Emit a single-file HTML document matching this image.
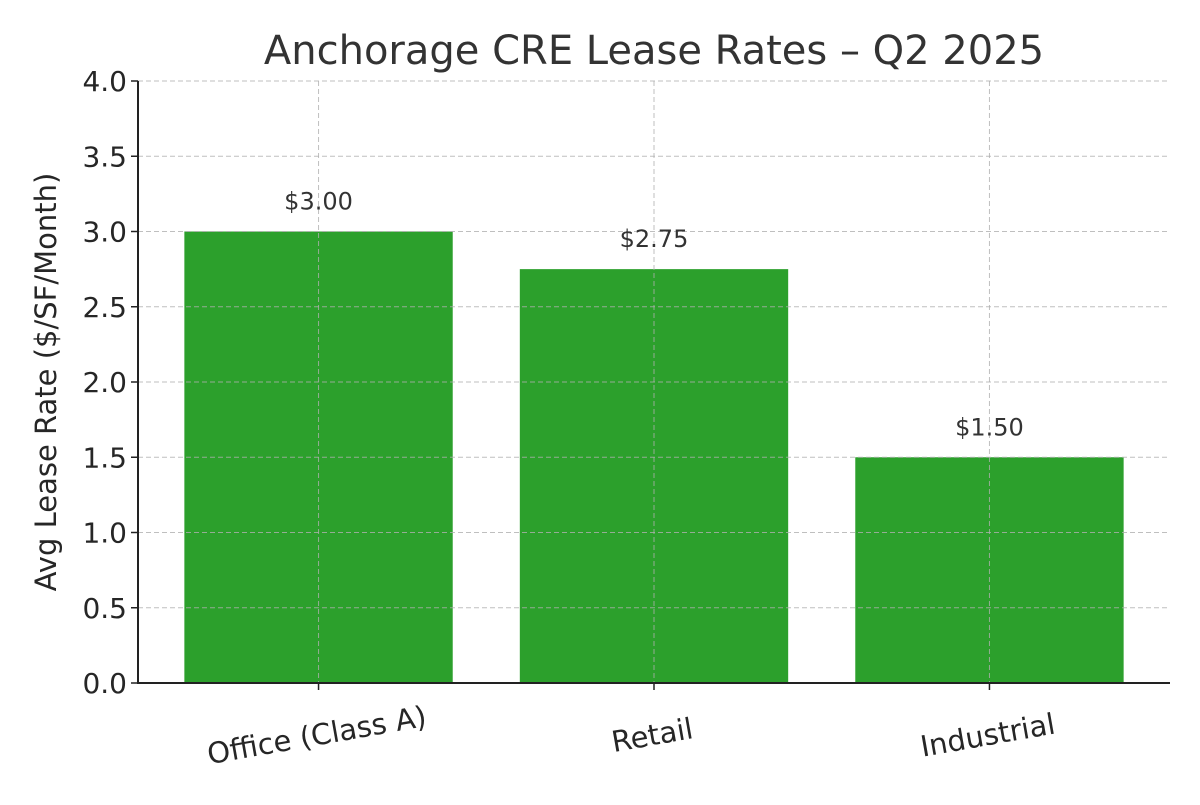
<!DOCTYPE html>
<html><head><meta charset="utf-8"><style>
body{margin:0;background:#fff}
svg text{font-family:"DejaVu Sans","Liberation Sans",sans-serif;fill:#262626}
</style></head><body>
<svg id="chart" width="1200" height="800" xmlns="http://www.w3.org/2000/svg">
<text x="654" y="64" text-anchor="middle" font-size="40" style="fill:#333">Anchorage CRE Lease Rates – Q2 2025</text>
<text transform="translate(56,382) rotate(-90)" text-anchor="middle" font-size="29">Avg Lease Rate ($/SF/Month)</text>
<g id="bars"></g><g id="grid"></g><g id="labels"></g><g id="axes"></g>
</svg>
<script>
const categories=["Office (Class A)","Retail","Industrial"];
const values=[3.00,2.75,1.50];
const valueLabels=["$3.00","$2.75","$1.50"];
const yTicks=[0,0.5,1,1.5,2,2.5,3,3.5,4];
const yTickLabels=["0.0","0.5","1.0","1.5","2.0","2.5","3.0","3.5","4.0"];
const NS="http://www.w3.org/2000/svg";
const L=138,R=1170,T=81,B=683,yMax=4;
const y=v=>B-(B-T)*v/yMax;
const step=(R-L)/(categories.length+0.0764);
const x=i=>L+step*(0.5382+i);
const bw=step*0.8;
function mk(tag,attrs,parent){const e=document.createElementNS(NS,tag);for(const k in attrs)e.setAttribute(k,attrs[k]);document.getElementById(parent).appendChild(e);return e;}
values.forEach((v,i)=>{
 const r=mk("rect",{x:x(i)-bw/2,y:y(v),width:bw,height:B-y(v),fill:"#2ca02c"},"bars");
 
 
 const t=mk("text",{x:x(i),y:y(v)-22,"text-anchor":"middle","font-size":"24",style:"fill:#333"},"labels");
 t.textContent=valueLabels[i];
 
 
 const g=mk("line",{x1:x(i),x2:x(i),y1:T,y2:B,stroke:"#b0b0b0","stroke-dasharray":"5,3","stroke-width":"1","opacity":"0.8"},"grid");
 
 
 const tk=mk("line",{x1:x(i),x2:x(i),y1:B,y2:B+7,stroke:"#222","stroke-width":"1.5"},"axes");
 
 
 const xl=mk("text",{transform:`translate(${x(i)},${B+62}) rotate(-10)`,"text-anchor":"middle","font-size":"29"},"labels");
 xl.textContent=categories[i];
 
 
});
yTicks.forEach((v,i)=>{
 const g=mk("line",{x1:L,x2:R,y1:y(v),y2:y(v),stroke:"#b0b0b0","stroke-dasharray":"5,3","stroke-width":"1","opacity":"0.8"},"grid");
 
 
 const tk=mk("line",{x1:L-7,x2:L,y1:y(v),y2:y(v),stroke:"#222","stroke-width":"1.5"},"axes");
 
 
 const t=mk("text",{x:L-11,y:y(v)+10,"text-anchor":"end","font-size":"28"},"labels");
 t.textContent=yTickLabels[i];
 
 
});
const ax=mk("path",{d:`M${L},${T}V${B}H${R}`,fill:"none",stroke:"#222","stroke-width":"2"},"axes");


</script>
</body></html>
